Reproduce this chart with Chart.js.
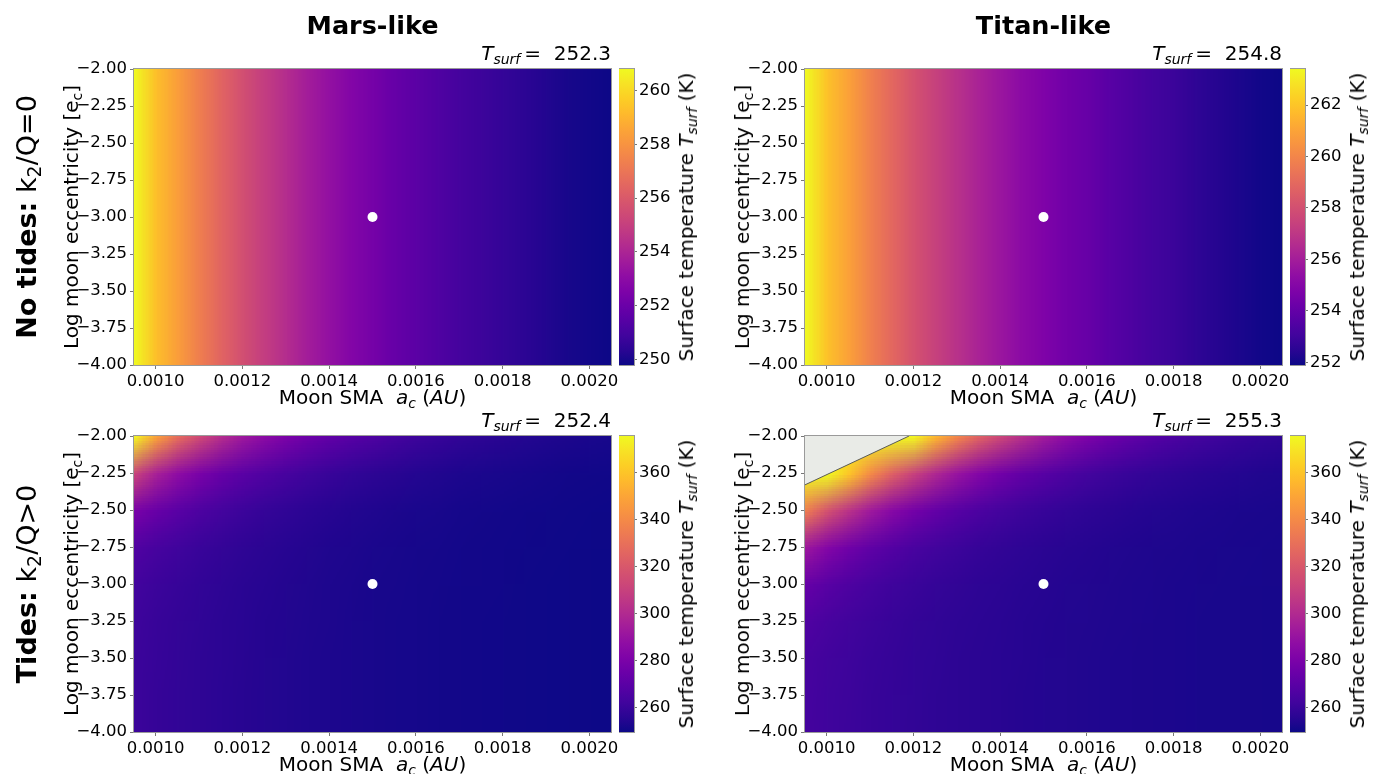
<!DOCTYPE html>
<html>
<head>
<meta charset="utf-8">
<script src="https://cdn.jsdelivr.net/npm/chart.js@4.4.1/dist/chart.umd.min.js"></script>
<style>
  html, body { margin: 0; padding: 0; background: #fff; }
  #fig { position: relative; width: 1381px; height: 774px; overflow: hidden;
         font-family: "DejaVu Sans", sans-serif; color: #000; }
  #fig canvas { position: absolute; }
  .txt { position: absolute; white-space: nowrap; line-height: 1; }
  .ctr { transform: translate(-50%, -50%); }
  .rgt { transform: translate(-100%, -50%); }
  .rot { transform: translate(-50%, -50%) rotate(-90deg); }
  sub { font-size: 70%; vertical-align: -0.28em; line-height: 0; }
</style>
</head>
<body>
<div id="fig"></div>
<script>
// Model grid: moon semi-major axis (AU) and log10 moon eccentricity
const smaValues = [0.00095, 0.00100, 0.00105, 0.00110, 0.00115, 0.00120, 0.00125, 0.00130,
  0.00135, 0.00140, 0.00145, 0.00150, 0.00155, 0.00160, 0.00165, 0.00170, 0.00175, 0.00180,
  0.00185, 0.00190, 0.00195, 0.00200, 0.00205];
const logEccValues = [-2.00, -2.25, -2.50, -2.75, -3.00, -3.25, -3.50, -3.75, -4.00];

// Surface temperature (K) without tides: depends on the SMA only
const marsNoTides = [260.8, 259.3, 258.3, 257.3, 256.4, 255.6, 254.9, 254.3, 253.7, 253.2, 252.7,
  252.3, 251.9, 251.6, 251.3, 251.0, 250.8, 250.6, 250.4, 250.2, 250.0, 249.9, 249.8];
const titanNoTides = [263.4, 261.9, 260.9, 259.8, 258.9, 258.1, 257.4, 256.8, 256.2, 255.7, 255.2,
  254.8, 254.4, 254.1, 253.7, 253.4, 253.1, 252.9, 252.6, 252.4, 252.2, 252.0, 251.9];

// Surface temperature (K) with tides, one row per log eccentricity (top row = -2.00)
const marsTides = [
  [374.0, 348.0, 328.0, 313.0, 301.0, 292.0, 285.5, 280.0, 275.5, 271.8, 268.6, 266.1, 263.5, 261.3, 259.5, 257.9, 256.7, 255.6, 254.7, 253.9, 253.1, 252.6, 252.1],
  [310.9, 296.0, 287.0, 279.5, 274.0, 270.0, 266.8, 264.0, 261.7, 259.8, 258.2, 256.9, 255.7, 254.8, 254.0, 253.2, 252.7, 252.2, 251.8, 251.4, 251.0, 250.8, 250.5],
  [279.7, 273.8, 269.4, 266.0, 263.2, 260.9, 259.1, 257.7, 256.4, 255.4, 254.5, 253.8, 253.1, 252.6, 252.2, 251.7, 251.4, 251.1, 250.8, 250.6, 250.3, 250.2, 250.0],
  [267.2, 264.1, 262.0, 260.1, 258.6, 257.3, 256.3, 255.4, 254.6, 253.9, 253.3, 252.8, 252.3, 251.9, 251.6, 251.2, 251.0, 250.8, 250.5, 250.3, 250.1, 250.0, 249.9],
  [262.9, 260.9, 259.5, 258.2, 257.1, 256.1, 255.3, 254.6, 254.0, 253.4, 252.9, 252.4, 252.0, 251.7, 251.4, 251.1, 250.9, 250.7, 250.4, 250.2, 250.0, 249.9, 249.8],
  [261.5, 259.8, 258.7, 257.6, 256.6, 255.8, 255.0, 254.4, 253.8, 253.3, 252.8, 252.3, 251.9, 251.6, 251.3, 251.0, 250.8, 250.6, 250.4, 250.2, 250.0, 249.9, 249.8],
  [261.0, 259.5, 258.4, 257.4, 256.5, 255.7, 254.9, 254.3, 253.7, 253.2, 252.7, 252.3, 251.9, 251.6, 251.3, 251.0, 250.8, 250.6, 250.4, 250.2, 250.0, 249.9, 249.8],
  [260.9, 259.4, 258.3, 257.3, 256.4, 255.6, 254.9, 254.3, 253.7, 253.2, 252.7, 252.3, 251.9, 251.6, 251.3, 251.0, 250.8, 250.6, 250.4, 250.2, 250.0, 249.9, 249.8],
  [260.8, 259.3, 258.3, 257.3, 256.4, 255.6, 254.9, 254.3, 253.7, 253.2, 252.7, 252.3, 251.9, 251.6, 251.3, 251.0, 250.8, 250.6, 250.4, 250.2, 250.0, 249.9, 249.8]
];
// null = no equilibrium solution
const titanTides = [
  [null, null, null, null, null, 374.2, 354.5, 337.7, 323.5, 311.6, 301.6, 293.2, 286.3, 280.5, 275.7, 271.7, 268.3, 265.6, 263.3, 261.4, 259.8, 258.4, 257.3],
  [null, null, 360.3, 340.1, 323.5, 310.0, 299.0, 290.1, 283.0, 277.2, 272.5, 268.8, 265.8, 263.3, 261.3, 259.6, 258.2, 257.1, 256.1, 255.3, 254.7, 254.1, 253.7],
  [335.0, 317.3, 303.6, 292.7, 284.3, 277.8, 272.7, 268.7, 265.6, 263.1, 261.1, 259.5, 258.2, 257.1, 256.2, 255.4, 254.8, 254.3, 253.7, 253.3, 253.0, 252.7, 252.5],
  [292.0, 283.1, 276.6, 271.5, 267.7, 264.8, 262.5, 260.8, 259.3, 258.1, 257.1, 256.3, 255.6, 255.1, 254.5, 254.0, 253.6, 253.3, 253.0, 252.7, 252.5, 252.2, 252.1],
  [273.5, 269.2, 266.2, 263.7, 261.8, 260.3, 259.1, 258.1, 257.2, 256.5, 255.8, 255.3, 254.8, 254.4, 254.0, 253.6, 253.3, 253.0, 252.7, 252.5, 252.3, 252.1, 252.0],
  [266.7, 264.3, 262.6, 261.1, 259.8, 258.8, 257.9, 257.2, 256.5, 255.9, 255.4, 255.0, 254.5, 254.2, 253.8, 253.5, 253.2, 252.9, 252.6, 252.4, 252.2, 252.0, 251.9],
  [264.5, 262.7, 261.4, 260.2, 259.2, 258.3, 257.6, 256.9, 256.3, 255.8, 255.3, 254.8, 254.4, 254.1, 253.7, 253.4, 253.1, 252.9, 252.6, 252.4, 252.2, 252.0, 251.9],
  [263.7, 262.1, 261.1, 259.9, 259.0, 258.2, 257.5, 256.8, 256.2, 255.7, 255.2, 254.8, 254.4, 254.1, 253.7, 253.4, 253.1, 252.9, 252.6, 252.4, 252.2, 252.0, 251.9],
  [263.5, 262.0, 261.0, 259.8, 258.9, 258.1, 257.4, 256.8, 256.2, 255.7, 255.2, 254.8, 254.4, 254.1, 253.7, 253.4, 253.1, 252.9, 252.6, 252.4, 252.2, 252.0, 251.9]
];

// Reference moon (SMA, log e) marked in every panel
const refPoint = [0.0015, -3.0];
// Edge of the no-solution region (Titan-like, with tides)
const noSolutionSma = [0.00095, 0.00119];
const noSolutionLogEcc = [-2.33, -2.00];
// Shared colour range of the tidal panels
const tidesRange = [249.7, 375.6];

// Tick values
const smaTicks = [0.0010, 0.0012, 0.0014, 0.0016, 0.0018, 0.0020];
const eccTicks = [-2.00, -2.25, -2.50, -2.75, -3.00, -3.25, -3.50, -3.75, -4.00];
const marsCbarTicks = [250, 252, 254, 256, 258, 260];
const titanCbarTicks = [252, 254, 256, 258, 260, 262];
const tidesCbarTicks = [260, 280, 300, 320, 340, 360];

// matplotlib "plasma", sampled every 0.05
const PLASMA = ['#0d0887', '#2a0593', '#41049d', '#5601a4', '#6a00a8', '#7e03a8', '#8f0da4',
  '#a11b9b', '#b12a90', '#bf3984', '#cc4778', '#d6556d', '#e16462', '#ea7457', '#f2844b',
  '#f89540', '#fca636', '#feba2c', '#fcce25', '#f7e225', '#f0f921'];

const FONT = '"DejaVu Sans", sans-serif';
const TICK_SIZE = 16.5;
const PLOT_W = 477, PLOT_H = 296;
const fig = document.getElementById('fig');

function hexRgb(h) {
  return [1, 3, 5].map(i => parseInt(h.slice(i, i + 2), 16));
}
function plasma(t) {
  t = Math.min(1, Math.max(0, t));
  const f = t * (PLASMA.length - 1);
  const i = Math.min(PLASMA.length - 2, Math.floor(f));
  const a = hexRgb(PLASMA[i]), b = hexRgb(PLASMA[i + 1]), u = f - i;
  return a.map((v, k) => Math.round(v + (b[k] - v) * u));
}
const minus = s => s.replace('-', '\u2212');

function addCanvas(left, top, w, h) {
  const cv = document.createElement('canvas');
  cv.width = w; cv.height = h;
  cv.style.left = left + 'px'; cv.style.top = top + 'px';
  cv.style.width = w + 'px'; cv.style.height = h + 'px';
  fig.appendChild(cv);
  return cv;
}
function addText(html, x, y, size, cls, bold) {
  const d = document.createElement('div');
  d.className = 'txt ' + cls;
  d.style.left = x + 'px'; d.style.top = y + 'px';
  d.style.fontSize = size + 'px';
  if (bold) d.style.fontWeight = 'bold';
  d.innerHTML = html;
  fig.appendChild(d);
}

// grey spines round the plotting area
const frame = {
  id: 'frame',
  afterDatasetsDraw(chart) {
    const a = chart.chartArea, c = chart.ctx;
    c.save();
    c.strokeStyle = '#9a9a9a';
    c.lineWidth = 1;
    c.strokeRect(Math.round(a.left) - 0.5, Math.round(a.top) - 0.5,
      Math.round(a.right - a.left) + 1, Math.round(a.bottom - a.top) + 1);
    c.restore();
  }
};

// temperature grid painted as an image placed with the chart's scales
function heatLayer(grid, range) {
  return {
    id: 'heat',
    beforeDatasetsDraw(chart) {
      const { ctx, chartArea: a, scales: { x, y } } = chart;
      const rows = grid.length, cols = grid[0].length;
      const off = document.createElement('canvas');
      off.width = cols; off.height = rows;
      const octx = off.getContext('2d');
      const img = octx.createImageData(cols, rows);
      grid.forEach((row, r) => row.forEach((v, c) => {
        const t = v === null ? 1 : (v - range[0]) / (range[1] - range[0]);
        const rgb = plasma(t), k = (r * cols + c) * 4;
        img.data[k] = rgb[0]; img.data[k + 1] = rgb[1]; img.data[k + 2] = rgb[2]; img.data[k + 3] = 255;
      }));
      octx.putImageData(img, 0, 0);
      const x0 = x.getPixelForValue(smaValues[0]);
      const x1 = x.getPixelForValue(smaValues[cols - 1]);
      let y0 = a.top, y1 = a.bottom, sy = 0, sh = 1;
      if (rows > 1) {
        y0 = y.getPixelForValue(logEccValues[0]);
        y1 = y.getPixelForValue(logEccValues[rows - 1]);
        sy = 0.5; sh = rows - 1;
      }
      ctx.save();
      ctx.beginPath();
      ctx.rect(a.left, a.top, a.right - a.left, a.bottom - a.top);
      ctx.clip();
      ctx.imageSmoothingEnabled = true;
      ctx.drawImage(off, 0.5, sy, cols - 1, sh, x0, y0, x1 - x0, y1 - y0);
      ctx.restore();
    }
  };
}

function colorbarFill(range) {
  return {
    id: 'cbarFill',
    beforeDatasetsDraw(chart) {
      const { ctx, chartArea: a, scales: { y } } = chart;
      const g = ctx.createLinearGradient(0, y.getPixelForValue(range[0]), 0, y.getPixelForValue(range[1]));
      PLASMA.forEach((c, i) => g.addColorStop(i / (PLASMA.length - 1), c));
      ctx.save();
      ctx.fillStyle = g;
      ctx.fillRect(a.left, a.top, a.right - a.left, a.bottom - a.top);
      ctx.restore();
    }
  };
}

function tickAxis(values, fmt, extra) {
  return Object.assign({
    type: 'linear',
    afterBuildTicks: s => { s.ticks = values.map(v => ({ value: v })); },
    ticks: { callback: fmt, autoSkip: false, maxRotation: 0, color: '#000',
             font: { family: FONT, size: TICK_SIZE } },
    grid: { drawOnChartArea: false, drawTicks: true, tickLength: 4, color: '#777' },
    border: { display: false }
  }, extra);
}

const panels = [
  { grid: [marsNoTides], cbarTicks: marsCbarTicks, left: 134, top: 69 },
  { grid: [titanNoTides], cbarTicks: titanCbarTicks, left: 805, top: 69 },
  { grid: marsTides, range: tidesRange, cbarTicks: tidesCbarTicks, left: 134, top: 436 },
  { grid: titanTides, range: tidesRange, cbarTicks: tidesCbarTicks, left: 805, top: 436, noSolution: true }
];

const refCol = smaValues.findIndex(v => Math.abs(v - refPoint[0]) < 1e-9);
const refRow = logEccValues.findIndex(v => Math.abs(v - refPoint[1]) < 1e-9);

panels.forEach(p => {
  const flat = p.grid.flat().filter(v => v !== null);
  const range = p.range || [Math.min(...flat), Math.max(...flat)];
  const padL = 75, padT = 15, padR = 32, padB = 40;

  const datasets = [{
    type: 'scatter',
    data: [{ x: refPoint[0], y: refPoint[1] }],
    pointRadius: 5, backgroundColor: '#ffffff', borderWidth: 0, order: 0
  }];
  if (p.noSolution) {
    datasets.push({
      type: 'line',
      data: noSolutionSma.map((x, i) => ({ x, y: noSolutionLogEcc[i] })),
      fill: 'end', backgroundColor: '#e9ebe7', borderColor: '#5a5a5a', borderWidth: 1,
      pointRadius: 0, tension: 0, order: 1
    });
  }

  new Chart(addCanvas(p.left - padL, p.top - padT, padL + PLOT_W + padR, padT + PLOT_H + padB), {
    type: 'scatter',
    data: { datasets },
    options: {
      responsive: false, animation: false, events: [], devicePixelRatio: 1,
      layout: { padding: { top: padT, right: padR, left: 0, bottom: 0 } },
      plugins: { legend: { display: false }, tooltip: { enabled: false } },
      scales: {
        x: tickAxis(smaTicks, v => v.toFixed(4), {
          min: smaValues[0], max: smaValues[smaValues.length - 1],
          afterFit: s => { s.height = padB; }
        }),
        y: tickAxis(eccTicks, v => minus(v.toFixed(2)), {
          min: eccTicks[eccTicks.length - 1], max: eccTicks[0],
          afterFit: s => { s.width = padL; }
        })
      }
    },
    plugins: [heatLayer(p.grid, range), frame]
  });

  // colour bar
  const cbW = 15, axW = 48;
  const cbY = tickAxis(p.cbarTicks, v => String(v), {
    position: 'right', min: range[0], max: range[1],
    afterFit: s => { s.width = axW; }
  });
  cbY.grid.tickLength = 3;
  cbY.ticks.padding = 2;
  new Chart(addCanvas(p.left + PLOT_W + 8, p.top - padT, cbW + axW, padT + PLOT_H + 15), {
    type: 'scatter',
    data: { datasets: [] },
    options: {
      responsive: false, animation: false, events: [], devicePixelRatio: 1,
      layout: { padding: { top: padT, bottom: 15, left: 0, right: 0 } },
      plugins: { legend: { display: false }, tooltip: { enabled: false } },
      scales: { x: { display: false, min: 0, max: 1 }, y: cbY }
    },
    plugins: [colorbarFill(range), frame]
  });

  // texts around the panel
  const refT = p.grid.length > 1 ? p.grid[refRow][refCol] : p.grid[0][refCol];
  const cx = p.left + PLOT_W / 2, cy = p.top + PLOT_H / 2;
  addText('<i>T</i><sub><i>surf</i></sub>&#8201;=&nbsp; ' + refT.toFixed(1),
    p.left + PLOT_W, p.top - 16, 20, 'rgt');
  addText('Log moon eccentricity [e<sub>c</sub>]', p.left - 63, cy, 20, 'rot');
  addText('Moon SMA&nbsp; <i>a</i><sub><i>c</i></sub> (<i>AU</i>)', cx, p.top + PLOT_H + 32, 20, 'ctr');
  addText('Surface temperature <i>T</i><sub><i>surf</i></sub> (K)', p.left + PLOT_W + 75, cy, 20, 'rot');
});

addText('Mars-like', 134 + PLOT_W / 2, 26, 25.5, 'ctr', true);
addText('Titan-like', 805 + PLOT_W / 2, 26, 25.5, 'ctr', true);
addText('<b>No tides:</b> k<sub>2</sub>/Q=0', 26, 69 + PLOT_H / 2, 27, 'rot');
addText('<b>Tides:</b> k<sub>2</sub>/Q&gt;0', 26, 436 + PLOT_H / 2, 27, 'rot');
</script>
</body>
</html>
